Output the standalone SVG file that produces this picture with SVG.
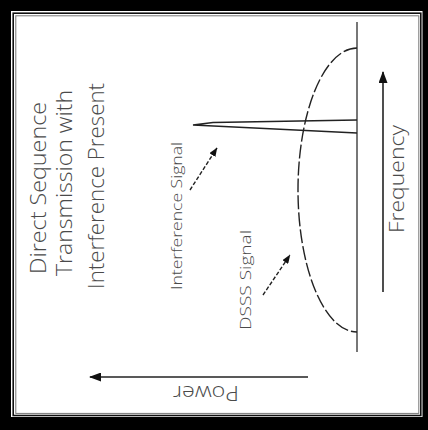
<svg xmlns="http://www.w3.org/2000/svg" width="428" height="430" viewBox="0 0 428 430">
  <style>
    .t { font-family: "Open Sans", "Liberation Sans", sans-serif; font-weight: 300; fill: #4a4a4a; }
    .axis { stroke: #222; stroke-width: 1.6; fill: none; }
    .base { stroke: #555; stroke-width: 1.6; fill: none; }
    .sig { stroke: #222; stroke-width: 1.4; fill: none; }
    .lead { stroke: #222; stroke-width: 1.4; fill: none; stroke-dasharray: 4 2; }
  </style>
  <defs>
    <marker id="bigHead" markerUnits="userSpaceOnUse" markerWidth="12" markerHeight="9" refX="11" refY="4.5" orient="auto">
      <path d="M0,0 L12,4.5 L0,9 z" fill="#111"/>
    </marker>
    <marker id="smallHead" markerUnits="userSpaceOnUse" markerWidth="9" markerHeight="7" refX="8.5" refY="3.5" orient="auto">
      <path d="M0,0 L9,3.5 L0,7 z" fill="#111"/>
    </marker>
  </defs>

  <!-- frame -->
  <g id="frame">
    <rect x="0" y="0" width="428" height="430" fill="#000"/>
    <rect x="11" y="11" width="411.5" height="406" fill="#fff"/>
    <rect x="13.2" y="13.2" width="407.6" height="402.3" fill="none" stroke="#111" stroke-width="1.6"/>
    <rect x="15.8" y="15.8" width="403" height="397.6" fill="none" stroke="#777" stroke-width="1"/>
  </g>

  <!-- title -->
  <g id="title" class="t" font-size="22" text-anchor="middle">
    <text transform="translate(46,188) rotate(-90)" textLength="172" lengthAdjust="spacingAndGlyphs">Direct Sequence</text>
    <text transform="translate(72,183) rotate(-90)" textLength="186" lengthAdjust="spacingAndGlyphs">Transmission with</text>
    <text transform="translate(104,186) rotate(-90)" textLength="206" lengthAdjust="spacingAndGlyphs">Interference Present</text>
  </g>

  <!-- baseline (frequency axis line) -->
  <g id="baseline">
    <line class="base" x1="357" y1="22" x2="357" y2="352"/>
  </g>

  <!-- DSSS signal curve -->
  <g id="dsss-signal">
    <path class="sig" stroke-dasharray="14 3" d="M357,48 A59,142 0 0 0 357,332"/>
  </g>

  <!-- interference spike -->
  <g id="interference-signal">
    <path class="sig" d="M357,120 L213,122.5 L193,125 L357,133"/>
  </g>

  <!-- labels -->
  <g id="label-interference" class="t" font-size="15" text-anchor="middle">
    <text transform="translate(182,216) rotate(-90)" textLength="148" lengthAdjust="spacingAndGlyphs">Interference Signal</text>
  </g>
  <g id="label-dsss" class="t" font-size="15" text-anchor="middle">
    <text transform="translate(251,280) rotate(-90)" textLength="100" lengthAdjust="spacingAndGlyphs">DSSS Signal</text>
  </g>
  <g id="label-frequency" class="t" font-size="21" text-anchor="middle">
    <text transform="translate(404,179) rotate(-90)" textLength="108" lengthAdjust="spacingAndGlyphs">Frequency</text>
  </g>
  <g id="label-power" class="t" font-size="21" text-anchor="middle">
    <text transform="translate(206,386) rotate(180)" textLength="66" lengthAdjust="spacingAndGlyphs">Power</text>
  </g>

  <!-- connectors -->
  <g id="connectors">
    <line class="lead" x1="190" y1="190" x2="217" y2="148" marker-end="url(#smallHead)"/>
    <line class="lead" x1="263" y1="295" x2="290" y2="255" marker-end="url(#smallHead)"/>
    <line class="axis" x1="383" y1="292" x2="383" y2="72" marker-end="url(#bigHead)"/>
    <line class="axis" x1="308" y1="377" x2="90" y2="377" marker-end="url(#bigHead)"/>
  </g>
</svg>
